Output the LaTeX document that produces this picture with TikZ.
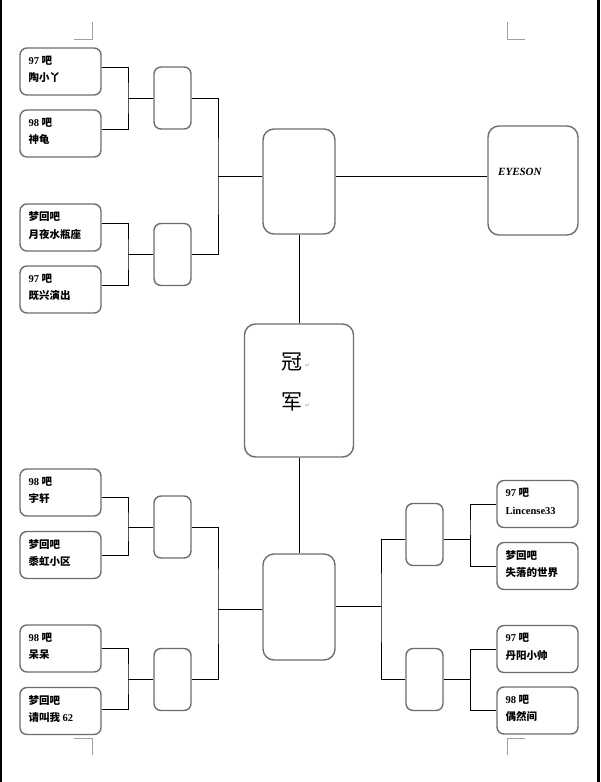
\documentclass[tikz,border=0pt]{standalone}
\usepackage{fontspec}
\setmainfont{Liberation Serif}
\newfontfamily\cjk{Noto Sans CJK SC}
\newfontfamily\symf{DejaVu Sans}
\newcommand{\zh}[1]{{\cjk #1}}
\begin{document}
\begin{tikzpicture}[x=1pt,y=-1pt,
  leaf/.style={draw=boxgray,line width=1.4pt,rounded corners=7pt,minimum width=81pt,minimum height=47pt,inner sep=0pt},
  mid/.style={draw=boxgray,line width=1.4pt,rounded corners=7pt,minimum width=37pt,minimum height=62pt,inner sep=0pt},
  big/.style={draw=boxgray,line width=1.4pt,rounded corners=11pt,inner sep=0pt},
  ltext/.style={anchor=north west,inner sep=0pt,align=left,font=\fontsize{10.5}{17.5}\selectfont\bfseries},
  conn/.style={draw=black,line width=0.9pt},
  crop/.style={draw=markgray,line width=0.6pt},
  pmark/.style={text=markgray,font=\symf\fontsize{6}{6}\selectfont,inner sep=0pt}]
\definecolor{boxgray}{HTML}{6E6E6E}
\definecolor{markgray}{HTML}{A0A0A0}
\useasboundingbox (0,0) rectangle (600,782);
\fill[white] (0,0) rectangle (600,782);
% page edges
\fill[black] (0,0) rectangle (1.5,782);
\fill[black] (597,0) rectangle (600,782);
% crop marks
\draw[crop] (74,39) -- (92,39) -- (92,22);
\draw[crop] (525,39) -- (507,39) -- (507,22);
\draw[crop] (74,738) -- (92,738) -- (92,755);
\draw[crop] (525,738) -- (507,738) -- (507,755);

% leaf boxes
\node[leaf] (L1) at (60.5,71.5) {};
\node[leaf] (L2) at (60.5,133.5) {};
\node[leaf] (L3) at (60.5,227.5) {};
\node[leaf] (L4) at (60.5,289.5) {};
\node[leaf] (L5) at (60.5,492.5) {};
\node[leaf] (L6) at (60.5,555) {};
\node[leaf] (L7) at (60.5,648.5) {};
\node[leaf] (L8) at (60.5,711) {};
\node[leaf] (R1) at (537.5,504) {};
\node[leaf] (R2) at (537.5,566) {};
\node[leaf] (R3) at (537.5,649) {};
\node[leaf] (R4) at (537.5,710.5) {};

\node[ltext] (L1t) at ([xshift=9pt,yshift=-8.5pt]L1.north west) {97 \zh{吧}\\\zh{陶小丫}};
\node[ltext] (L2t) at ([xshift=9pt,yshift=-8.5pt]L2.north west) {98 \zh{吧}\\\zh{神龟}};
\node[ltext] (L3t) at ([xshift=9pt,yshift=-8.5pt]L3.north west) {\zh{梦回吧}\\\zh{月夜水瓶座}};
\node[ltext] (L4t) at ([xshift=9pt,yshift=-8.5pt]L4.north west) {97 \zh{吧}\\\zh{既兴演出}};
\node[ltext] (L5t) at ([xshift=9pt,yshift=-8.5pt]L5.north west) {98 \zh{吧}\\\zh{宇轩}};
\node[ltext] (L6t) at ([xshift=9pt,yshift=-8.5pt]L6.north west) {\zh{梦回吧}\\\zh{黍虹小区}};
\node[ltext] (L7t) at ([xshift=9pt,yshift=-8.5pt]L7.north west) {98 \zh{吧}\\\zh{呆呆}};
\node[ltext] (L8t) at ([xshift=9pt,yshift=-8.5pt]L8.north west) {\zh{梦回吧}\\\zh{请叫我} 62};
\node[ltext] (R1t) at ([xshift=9pt,yshift=-8.5pt]R1.north west) {97 \zh{吧}\\Lincense33};
\node[ltext] (R2t) at ([xshift=9pt,yshift=-8.5pt]R2.north west) {\zh{梦回吧}\\\zh{失落的世界}};
\node[ltext] (R3t) at ([xshift=9pt,yshift=-8.5pt]R3.north west) {97 \zh{吧}\\\zh{丹阳小帅}};
\node[ltext] (R4t) at ([xshift=9pt,yshift=-8.5pt]R4.north west) {98 \zh{吧}\\\zh{偶然间}};

% middle boxes
\node[mid] (M1) at (172.5,98) {};
\node[mid] (M2) at (172.5,254.5) {};
\node[mid] (M3) at (172.5,527) {};
\node[mid] (M4) at (172.5,679.5) {};
\node[mid] (M5) at (424.5,534.5) {};
\node[mid] (M6) at (424.5,679.5) {};

% big boxes
\node[big,minimum width=72pt,minimum height=105pt] (B1) at (299,181.5) {};
\node[big,minimum width=72pt,minimum height=106pt] (B2) at (299,607) {};
\node[big,minimum width=109pt,minimum height=133pt] (C) at (299,390.5) {};
\node[big,minimum width=90pt,minimum height=109pt] (E) at (533,180.5) {};

\node[inner sep=0pt,font=\cjk\fontsize{21}{21}\selectfont] (C1) at (292,362) {冠};
\node[inner sep=0pt,font=\cjk\fontsize{21}{21}\selectfont] (C2) at (292,402) {军};
\node[pmark,anchor=west] (C1m) at ([xshift=2pt,yshift=-4pt]C1.east) {↵};
\node[pmark,anchor=west] (C2m) at ([xshift=2pt,yshift=-4pt]C2.east) {↵};
\node[anchor=west,inner sep=0pt,font=\fontsize{11}{11}\selectfont\bfseries\itshape] (Et) at (498,172) {EYESON};

% junction coordinates
\coordinate (a1) at (128,98);
\coordinate (a2) at (128,254.5);
\coordinate (a3) at (128,527);
\coordinate (a4) at (128,679.5);
\coordinate (b1) at (218,176);
\coordinate (b2) at (218,609);
\coordinate (r5) at (470,534.5);
\coordinate (r6) at (470,679.5);
\coordinate (bR) at (381,606);

% connectors upper left
\draw[conn] ([yshift=4.5pt]L1.east) -| (a1) |- ([yshift=4.5pt]L2.east);
\draw[conn] (a1) -- (M1.west);
\draw[conn] ([yshift=4.5pt]L3.east) -| (a2) |- ([yshift=4.5pt]L4.east);
\draw[conn] (a2) -- (M2.west);
\draw[conn] (M1.east) -| (b1) |- (M2.east);
\draw[conn] (b1) -- (B1.west |- b1);
\draw[conn] (B1.east |- b1) -- (E.west |- b1);
\draw[conn] (B1.south) -- (C.north);
\draw[conn] (C.south) -- (B2.north);
% lower left
\draw[conn] ([yshift=-4.5pt]L5.east) -| (a3) |- (L6.east);
\draw[conn] (a3) -- (M3.west);
\draw[conn] (L7.east) -| (a4) |- ([yshift=2pt]L8.east);
\draw[conn] (a4) -- (M4.west);
\draw[conn] (M3.east) -| (b2) |- (M4.east);
\draw[conn] (b2) -- (B2.west |- b2);
% lower right
\draw[conn] (B2.east |- bR) -- (bR);
\draw[conn] ([yshift=-4.5pt]M5.west) -| (bR) |- (M6.west);
\draw[conn] ([yshift=-4.5pt]M5.east) -| (r5) |- (R1.west);
\draw[conn] (r5) |- (R2.west);
\draw[conn] (M6.east) -| (r6) |- (R3.west);
\draw[conn] (r6) |- (R4.west);
\end{tikzpicture}
\end{document}
